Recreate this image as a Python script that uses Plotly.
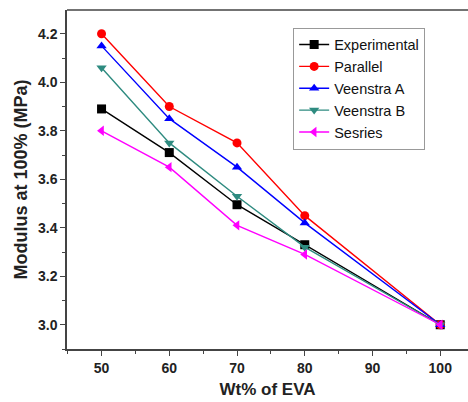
import plotly.graph_objects as go

wt_eva = [50, 60, 70, 80, 100]
experimental = [3.89, 3.71, 3.495, 3.33, 3.0]
parallel = [4.20, 3.90, 3.75, 3.45, 3.0]
veenstra_a = [4.15, 3.85, 3.65, 3.42, 3.0]
veenstra_b = [4.06, 3.75, 3.53, 3.32, 3.0]
sesries = [3.80, 3.65, 3.41, 3.29, 3.0]

series = [
    ("Experimental", experimental, "#000000", "square"),
    ("Parallel", parallel, "#ff0000", "circle"),
    ("Veenstra A", veenstra_a, "#0000ff", "triangle-up"),
    ("Veenstra B", veenstra_b, "#2e8b80", "triangle-down"),
    ("Sesries", sesries, "#ff00ff", "triangle-left"),
]

fig = go.Figure()
for name, vals, color, sym in series:
    fig.add_trace(go.Scatter(
        x=wt_eva, y=vals, name=name, mode="lines+markers",
        line=dict(color=color, width=1.4),
        marker=dict(symbol=sym, size=9, color=color),
    ))

fam = "Arial, Liberation Sans, sans-serif"
fig.update_layout(
    width=468, height=402,
    margin=dict(l=67, r=0, t=10, b=53),
    paper_bgcolor="white", plot_bgcolor="white",
    font=dict(family=fam, color="#222"),
    legend=dict(
        x=0.564, y=0.948, xanchor="left", yanchor="top",
        bgcolor="white", bordercolor="#999", borderwidth=1,
        font=dict(family=fam, size=14.5, color="#111"),
        tracegroupgap=0, itemwidth=30,
    ),
    xaxis=dict(
        range=[44.9, 104.1], tickvals=[50, 60, 70, 80, 90, 100],
        showgrid=False, zeroline=False,
        showline=True, linecolor="#444", linewidth=1.5,
        ticks="outside", ticklen=5, tickwidth=1.2, tickcolor="#444",
        minor=dict(dtick=5, tick0=45, ticks="outside", ticklen=3, tickcolor="#444"),
        tickfont=dict(family=fam, size=14, color="#222", weight="bold"),
        title=dict(text="Wt% of EVA", font=dict(family=fam, size=17, color="#222", weight="bold"), standoff=9),
    ),
    yaxis=dict(
        range=[2.9, 4.298], tickvals=[3.0, 3.2, 3.4, 3.6, 3.8, 4.0, 4.2],
        tickformat=".1f",
        showgrid=False, zeroline=False,
        showline=True, linecolor="#444", linewidth=1.5,
        ticks="outside", ticklen=5, tickwidth=1.2, tickcolor="#444",
        minor=dict(dtick=0.1, tick0=2.9, ticks="outside", ticklen=3, tickcolor="#444"),
        tickfont=dict(family=fam, size=14, color="#222", weight="bold"),
        title=dict(text="Modulus at 100% (MPa)", font=dict(family=fam, size=18, color="#222", weight="bold"), standoff=6),
    ),
)
# top border line
fig.add_shape(type="line", xref="paper", yref="paper", x0=0, x1=1, y0=1, y1=1,
              line=dict(color="#444", width=1.5))

fig.write_html("out.html")
